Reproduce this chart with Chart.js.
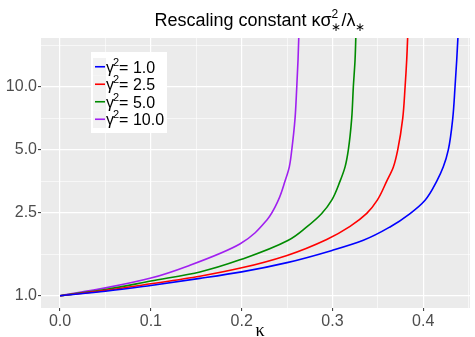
<!DOCTYPE html>
<html>
<head>
<meta charset="utf-8">
<script src="https://cdn.jsdelivr.net/npm/chart.js@4/dist/chart.umd.min.js"></script>
<style>
  html, body { margin: 0; padding: 0; background: #fff; }
  #c { display: block; }
</style>
</head>
<body>
<canvas id="c" width="475" height="337"></canvas>
<script>
// Rescaling constant vs kappa, one curve per gamma^2
const gammaSq = ["1.0", "2.5", "5.0", "10.0"];
const lineColors = ["#0000FF", "#FF0000", "#008B00", "#A020F0"];

const kappa1 = [0, 0.05, 0.10, 0.154, 0.20, 0.25, 0.30, 0.334, 0.3634, 0.3855, 0.402, 0.4149, 0.4221, 0.4276, 0.4325, 0.435, 0.4369, 0.4387];
const scale1 = [1, 1.05, 1.12, 1.21, 1.30, 1.44, 1.65, 1.843, 2.135, 2.476, 2.868, 3.54, 4.144, 5, 7.07, 10, 13.5, 19];

const kappa2 = [0, 0.05, 0.10, 0.154, 0.20, 0.25, 0.2937, 0.3194, 0.3378, 0.3494, 0.3598, 0.3671, 0.3719, 0.3774, 0.380, 0.3818, 0.3832];
const scale2 = [1, 1.06, 1.14, 1.24, 1.36, 1.56, 1.86, 2.15, 2.48, 2.87, 3.54, 4.14, 5, 7.07, 10, 13.5, 19];

const kappa3 = [0, 0.05, 0.10, 0.154, 0.2019, 0.2514, 0.2717, 0.2882, 0.2992, 0.3084, 0.3139, 0.3175, 0.3212, 0.323, 0.3249, 0.326];
const scale3 = [1, 1.07, 1.175, 1.30, 1.505, 1.843, 2.135, 2.476, 2.868, 3.54, 4.144, 5, 7.07, 10, 13.5, 19];

const kappa4 = [0, 0.05, 0.10, 0.143, 0.198, 0.2276, 0.2404, 0.2478, 0.2525, 0.2552, 0.2588, 0.2607, 0.2621, 0.2632];
const scale4 = [1, 1.09, 1.215, 1.40, 1.77, 2.30, 2.868, 3.54, 4.144, 5, 7.07, 10, 13.5, 19];

const xTicks = [0, 0.1, 0.2, 0.3, 0.4];
const xMinor = [0.05, 0.15, 0.25, 0.35, 0.45];
const yTicks = [1, 2.5, 5, 10];
const yMinor = [1.58, 3.54, 7.07, 15.8];

const FONT = "'Liberation Sans', Arial, sans-serif";
const toPts = (xs, ys) => xs.map((x, i) => ({ x: x, y: ys[i] }));
const series = [toPts(kappa1, scale1), toPts(kappa2, scale2), toPts(kappa3, scale3), toPts(kappa4, scale4)];

const isMajor = (list, v) => list.some(t => Math.abs(t - v) < 1e-9);

// text with raised / lowered pieces; "stack" pieces don't advance the pen
function richWidth(ctx, segs) {
    let w = 0;
    segs.forEach(s => {
        ctx.font = s.size + "px " + (s.family || FONT);
        if (!s.stack) w += ctx.measureText(s.t).width + (s.dx || 0);
    });
    return w;
}
function drawRich(ctx, segs, x, y) {
    segs.forEach(s => {
        ctx.font = s.size + "px " + (s.family || FONT);
        ctx.fillText(s.t, x + (s.dx || 0), y + (s.dy || 0));
        if (!s.stack) x += ctx.measureText(s.t).width + (s.dx || 0);
    });
    return x;
}

const panelBg = {
    id: "panelBg",
    beforeDraw(chart) {
        const { ctx, chartArea: a } = chart;
        ctx.save();
        ctx.fillStyle = "#FFFFFF";
        ctx.fillRect(0, 0, chart.width, chart.height);
        ctx.fillStyle = "#EBEBEB";
        ctx.fillRect(a.left, a.top, a.right - a.left, a.bottom - a.top);
        ctx.restore();
    }
};

const decorations = {
    id: "decorations",
    afterDraw(chart) {
        const { ctx } = chart;
        ctx.save();
        ctx.fillStyle = "#000";
        ctx.textBaseline = "alphabetic";
        ctx.textAlign = "left";

        // title
        const title = [
            { t: "Rescaling constant κσ", size: 18 },
            { t: "2", size: 12, dy: -8, stack: true },
            { t: "∗", size: 12, dy: 5 },
            { t: "/λ", size: 18 },
            { t: "∗", size: 12, dy: 5 }
        ];
        const tw = richWidth(ctx, title);
        drawRich(ctx, title, 260 - tw / 2, 26);

        // x axis title
        ctx.font = "18px 'Liberation Serif', 'DejaVu Serif', serif";
        ctx.textAlign = "center";
        ctx.fillText("κ", 260, 336);
        ctx.textAlign = "left";

        // legend
        const bx = 91, by = 52, bw = 76, bh = 81, rowH = 17.5;
        ctx.fillStyle = "#FFFFFF";
        ctx.fillRect(bx, by, bw, bh);
        gammaSq.forEach((g, i) => {
            const cy = by + 6 + rowH * i + rowH / 2;
            ctx.fillStyle = "#F2F2F2";
            ctx.fillRect(bx + 2, cy - rowH / 2, 13, rowH);
            ctx.strokeStyle = lineColors[i];
            ctx.lineWidth = 1.6;
            ctx.beginPath();
            ctx.moveTo(bx + 4, cy);
            ctx.lineTo(bx + 14, cy);
            ctx.stroke();
            ctx.fillStyle = "#000";
            drawRich(ctx, [
                { t: "γ", size: 16 },
                { t: "2", size: 11, dx: -1, dy: -7 },
                { t: "= " + g, size: 16 }
            ], bx + 15, cy + 6);
        });
        ctx.restore();
    }
};

// curves run near-vertical at the right, so interpolate along the y axis
const datasets = series.map((pts, i) => ({
    data: pts,
    indexAxis: "y",
    borderColor: lineColors[i],
    borderWidth: 1.6,
    pointRadius: 0,
    fill: false,
    cubicInterpolationMode: "monotone"
}));

new Chart(document.getElementById("c"), {
    type: "line",
    data: { datasets },
    options: {
        responsive: false,
        animation: false,
        indexAxis: "y",
        layout: { padding: { top: 38, right: 5, left: 0, bottom: 0 } },
        plugins: { legend: { display: false }, tooltip: { enabled: false }, title: { display: false } },
        scales: {
            x: {
                type: "linear",
                position: "bottom",
                min: -0.021,
                max: 0.4515,
                afterBuildTicks: (s) => { s.ticks = xTicks.concat(xMinor).map(v => ({ value: v })); },
                afterFit: (s) => { s.height = 29; },
                border: { display: false },
                grid: {
                    color: "#FFFFFF",
                    lineWidth: (c) => (c.tick && isMajor(xTicks, c.tick.value) ? 1.2 : 0.6),
                    tickColor: (c) => (c.tick && isMajor(xTicks, c.tick.value) ? "#333333" : "rgba(0,0,0,0)"),
                    tickLength: 3,
                    tickWidth: 1
                },
                ticks: {
                    autoSkip: false,
                    maxRotation: 0,
                    padding: 1,
                    color: "#4D4D4D",
                    font: { family: FONT, size: 16 },
                    callback: (v) => (isMajor(xTicks, v) ? Number(v).toFixed(1) : "")
                }
            },
            y: {
                type: "logarithmic",
                position: "left",
                min: 0.873,
                max: 17.17,
                afterBuildTicks: (s) => { s.ticks = yTicks.concat(yMinor).map(v => ({ value: v })); },
                afterFit: (s) => { s.width = 41; },
                border: { display: false },
                grid: {
                    color: "#FFFFFF",
                    lineWidth: (c) => (c.tick && isMajor(yTicks, c.tick.value) ? 1.2 : 0.6),
                    tickColor: (c) => (c.tick && isMajor(yTicks, c.tick.value) ? "#333333" : "rgba(0,0,0,0)"),
                    tickLength: 3,
                    tickWidth: 1
                },
                ticks: {
                    autoSkip: false,
                    padding: 1,
                    color: "#4D4D4D",
                    font: { family: FONT, size: 16 },
                    callback: (v) => (isMajor(yTicks, v) ? Number(v).toFixed(1) : "")
                }
            }
        }
    },
    plugins: [panelBg, decorations]
});
</script>
</body>
</html>
